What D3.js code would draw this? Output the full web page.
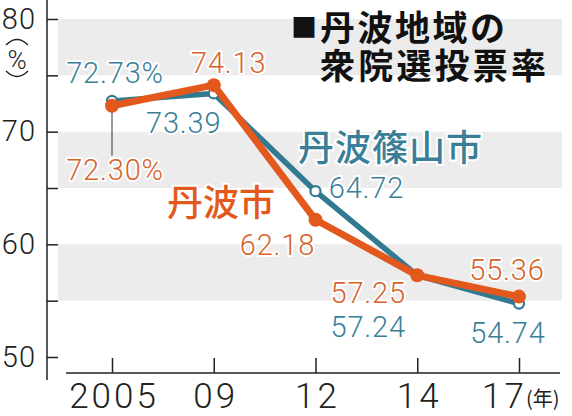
<!DOCTYPE html>
<html><head><meta charset="utf-8">
<script src="https://cdn.jsdelivr.net/npm/d3@7"></script>
<style>
html,body{margin:0;padding:0;background:#fff;}
svg{display:block;}
.num{font-family:Roboto,"Noto Sans",sans-serif;font-weight:300;}
.jp{font-family:"Noto Sans CJK JP",sans-serif;}
</style></head>
<body>
<svg id="c" width="572" height="416"></svg>
<script>
const years = ["2005", "09", "12", "14", "17"];
const sasayama = [72.73, 73.39, 64.72, 57.24, 54.74];
const tamba = [72.30, 74.13, 62.18, 57.25, 55.36];
const sasayamaLabels = ["72.73%", "73.39", "64.72", "57.24", "54.74"];
const tambaLabels = ["72.30%", "74.13", "62.18", "57.25", "55.36"];
const yTicks = [50, 55, 60, 65, 70, 75, 80];
const yTickLabels = [50, 60, 70, 80];
const bands = [[75, 80], [65, 70], [55, 60]];

const BLUE = "#327a92", ORANGE = "#e2581d";
const BLUE_T = "#3a7f97", ORANGE_T = "#d9622a";

const svg = d3.select("#c");
const x = d3.scalePoint().domain(years).range([112, 519]);
const y = d3.scaleLinear().domain([50, 80]).range([357, 19]);

// bands
svg.append("g").selectAll("rect").data(bands).join("rect")
  .attr("x", 58).attr("width", 504)
  .attr("y", d => y(d[1])).attr("height", d => y(d[0]) - y(d[1]))
  .attr("fill", "#ececec");

// y axis
const yAxis = d3.axisLeft(y).tickValues(yTicks).tickSizeInner(-11).tickSizeOuter(0).tickPadding(11)
  .tickFormat(d => yTickLabels.includes(d) ? d : "");
const gy = svg.append("g").attr("transform", "translate(47,0)").call(yAxis);
gy.select(".domain").remove();
gy.selectAll(".tick line").attr("stroke", "#222").attr("stroke-width", 1.5);
gy.selectAll(".tick text").attr("class", "num").attr("font-size", 29).attr("letter-spacing", 1)
  .attr("fill", "#222").attr("font-weight", 400);
svg.append("line").attr("x1", 47).attr("x2", 47).attr("y1", 0).attr("y2", 380).attr("stroke", "#222").attr("stroke-width", 1.5);

// unit (%)
const ug = svg.append("g");
ug.append("text").attr("class", "num").attr("x", 17).attr("y", 69).attr("text-anchor", "middle")
  .attr("font-size", 26).attr("font-weight", 400).attr("fill", "#222").text("%");
ug.append("path").attr("d", "M6,45 Q17,34 28,45").attr("fill", "none").attr("stroke", "#222").attr("stroke-width", 1.3);
ug.append("path").attr("d", "M6,71 Q17,82 28,71").attr("fill", "none").attr("stroke", "#222").attr("stroke-width", 1.3);

// x axis
const xAxis = d3.axisBottom(x).tickSizeInner(-15).tickSizeOuter(0).tickPadding(10);
const gx = svg.append("g").attr("transform", "translate(0,373)").call(xAxis);
gx.select(".domain").remove();
gx.selectAll(".tick line").attr("stroke", "#222").attr("stroke-width", 1.5);
gx.selectAll(".tick text").attr("class", "num").attr("font-size", 35).attr("letter-spacing", 3)
  .attr("font-weight", 400).attr("fill", "#222")
  .attr("dx", (d, i) => i === years.length - 1 ? -15 : 1.5);
svg.append("line").attr("x1", 66).attr("x2", 560).attr("y1", 373).attr("y2", 373).attr("stroke", "#222").attr("stroke-width", 1.5);
svg.append("text").attr("class", "jp").attr("x", 526).attr("y", 406).attr("font-size", 20).attr("fill", "#222").text("(年)");

// leader line for 72.30%
svg.append("line").attr("x1", x(years[0])).attr("x2", x(years[0]))
  .attr("y1", y(tamba[0])).attr("y2", y(tamba[0]) + 50).attr("stroke", "#333").attr("stroke-width", 1);

// lines
const line = d3.line().x((d, i) => x(years[i])).y(d => y(d));
svg.append("path").datum(sasayama).attr("d", line).attr("fill", "none")
  .attr("stroke", BLUE).attr("stroke-width", 5.5).attr("stroke-linejoin", "round");
svg.append("g").selectAll("circle").data(sasayama).join("circle")
  .attr("cx", (d, i) => x(years[i])).attr("cy", d => y(d)).attr("r", 5)
  .attr("fill", "#fff").attr("stroke", BLUE).attr("stroke-width", 2.2);
svg.append("path").datum(tamba).attr("d", line).attr("fill", "none")
  .attr("stroke", ORANGE).attr("stroke-width", 7).attr("stroke-linejoin", "round");
svg.append("g").selectAll("circle").data(tamba).join("circle")
  .attr("cx", (d, i) => x(years[i])).attr("cy", d => y(d)).attr("r", 7)
  .attr("fill", ORANGE);

// value labels (offsets relative to points)
const blueOff = [[3, -18], [-30, 40], [51, 7], [-49, 62], [-11, 39]];
const orangeOff = [[3, 74], [15, -12], [-38, 35], [-49, 28], [-12, -17]];
function labels(vals, texts, offs, color) {
  svg.append("g").selectAll("text").data(vals).join("text")
    .attr("class", "num")
    .attr("x", (d, i) => x(years[i]) + offs[i][0])
    .attr("y", (d, i) => y(d) + offs[i][1])
    .attr("text-anchor", "middle").attr("font-size", 29).attr("letter-spacing", 0.8)
    .attr("fill", color).attr("stroke", "#fff").attr("stroke-width", 4)
    .attr("paint-order", "stroke").attr("stroke-linejoin", "round")
    .text((d, i) => texts[i]);
}
labels(sasayama, sasayamaLabels, blueOff, BLUE_T);
labels(tamba, tambaLabels, orangeOff, ORANGE_T);

// series names
svg.append("text").attr("class", "jp").attr("x", 298).attr("y", 161).attr("font-size", 36)
  .attr("font-weight", 500).attr("fill", BLUE_T).attr("letter-spacing", 1)
  .attr("stroke", "#fff").attr("stroke-width", 4).attr("paint-order", "stroke").text("丹波篠山市");
svg.append("text").attr("class", "jp").attr("x", 167).attr("y", 216).attr("font-size", 36)
  .attr("font-weight", 500).attr("fill", ORANGE)
  .attr("stroke", "#fff").attr("stroke-width", 4).attr("paint-order", "stroke").text("丹波市");

// title
const t = svg.append("g").attr("class", "jp").attr("font-weight", 700).attr("fill", "#111");
t.append("text").attr("x", 291).attr("y", 37).attr("font-size", 26).text("■");
t.append("text").attr("x", 320).attr("y", 41).attr("font-size", 35).attr("letter-spacing", 2.5).text("丹波地域の");
t.append("text").attr("x", 320).attr("y", 79).attr("font-size", 35).attr("letter-spacing", 3.2).text("衆院選投票率");
</script>
</body></html>
